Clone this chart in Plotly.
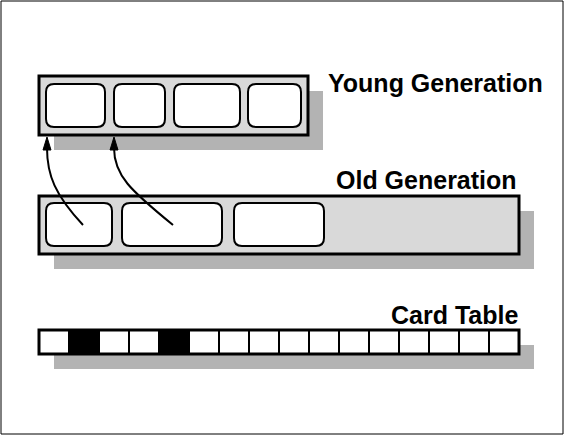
import plotly.graph_objects as go

# cell extents (pixels)
young_cells = [(46, 105), (114, 165), (174, 240), (248, 301)]
old_cells = [(46, 112), (122, 222), (234, 324)]
# card table: 1 = dirty (black), 0 = clean
card_marks = [0, 1, 0, 0, 1, 0, 0, 0, 0, 0, 0, 0, 0, 0, 0, 0]
labels = ["Young Generation", "Old Generation", "Card Table"]

W, H = 565, 437
BOX_FILL = "#d9d9d9"
SHADOW = "#b3b3b3"
SH = 15  # shadow offset


def rounded(x0, y0, x1, y1, r=8):
    return (f"M {x0+r},{y0} L {x1-r},{y0} Q {x1},{y0} {x1},{y0+r} "
            f"L {x1},{y1-r} Q {x1},{y1} {x1-r},{y1} L {x0+r},{y1} "
            f"Q {x0},{y1} {x0},{y1-r} L {x0},{y0+r} Q {x0},{y0} {x0+r},{y0} Z")


shapes = []


def box(x0, y0, x1, y1):
    shapes.append(dict(type="rect", x0=x0 + SH, y0=y0 + SH, x1=x1 + SH, y1=y1 + SH,
                       fillcolor=SHADOW, line=dict(width=0)))
    shapes.append(dict(type="rect", x0=x0, y0=y0, x1=x1, y1=y1,
                       fillcolor=BOX_FILL, line=dict(color="black", width=3)))


# young generation
box(39, 76, 308, 135)
for a, b in young_cells:
    shapes.append(dict(type="path", path=rounded(a, 84, b, 127),
                       fillcolor="white", line=dict(color="black", width=2)))

# old generation
box(39, 196, 519, 254)
for a, b in old_cells:
    shapes.append(dict(type="path", path=rounded(a, 203, b, 246),
                       fillcolor="white", line=dict(color="black", width=2)))

# card table
shapes.append(dict(type="rect", x0=39 + SH, y0=330 + SH, x1=519 + SH, y1=354 + SH,
                   fillcolor=SHADOW, line=dict(width=0)))
cw = (519 - 39) / len(card_marks)
for i, m in enumerate(card_marks):
    shapes.append(dict(type="rect", x0=39 + i * cw, y0=330, x1=39 + (i + 1) * cw, y1=354,
                       fillcolor="black" if m else "white",
                       line=dict(color="black", width=2)))
shapes.append(dict(type="rect", x0=39, y0=330, x1=519, y1=354,
                   line=dict(color="black", width=3)))

# reference arrows (old -> young)
shapes.append(dict(type="path", path="M 83,225 C 55,195 47,175 47,148",
                   line=dict(color="black", width=2)))
shapes.append(dict(type="path", path="M 173,225 C 130,190 114,175 114,148",
                   line=dict(color="black", width=2)))
for tx in (47, 114):
    shapes.append(dict(type="path", path=f"M {tx},137 L {tx-4},150 L {tx+4},150 Z",
                       fillcolor="black", line=dict(color="black", width=1)))

# outer frame
shapes.append(dict(type="rect", x0=1, y0=1, x1=563, y1=434,
                   line=dict(color="black", width=1)))

font = dict(family="Liberation Sans", size=25, color="black")
annotations = [
    dict(x=326, y=83, text=f"<b>{labels[0]}</b>", xanchor="left", yanchor="middle",
         showarrow=False, font=font),
    dict(x=519, y=180, text=f"<b>{labels[1]}</b>", xanchor="right", yanchor="middle",
         showarrow=False, font=font),
    dict(x=520, y=315, text=f"<b>{labels[2]}</b>", xanchor="right", yanchor="middle",
         showarrow=False, font=font),
]

fig = go.Figure()
fig.update_layout(
    width=W, height=H,
    margin=dict(l=0, r=0, t=0, b=0),
    paper_bgcolor="white", plot_bgcolor="white",
    xaxis=dict(range=[0, W], visible=False, fixedrange=True),
    yaxis=dict(range=[H, 0], visible=False, fixedrange=True),
    shapes=shapes,
    annotations=annotations,
    showlegend=False,
)

fig.write_html("out.html", config={"displayModeBar": False},
               post_script="document.body.style.margin='0';")
